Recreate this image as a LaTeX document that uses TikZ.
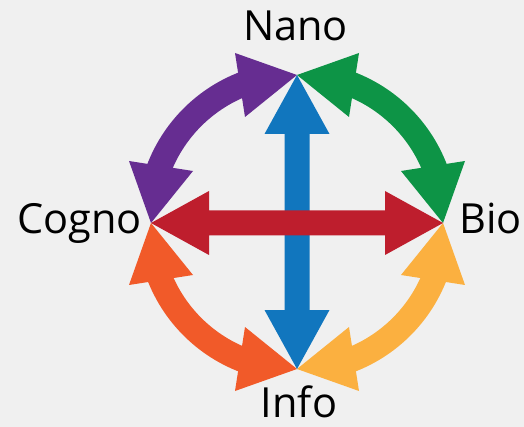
\documentclass[tikz,border=0pt]{standalone}
\usepackage{fontspec}
\setmainfont{Open Sans}
\usetikzlibrary{calc}
\definecolor{bgc}{RGB}{240,240,240}
\definecolor{cpurple}{RGB}{102,45,145}
\definecolor{cgreen}{RGB}{13,148,70}
\definecolor{cblue}{RGB}{17,118,190}
\definecolor{cred}{RGB}{190,30,45}
\definecolor{corange}{RGB}{241,90,41}
\definecolor{cyellow}{RGB}{251,176,64}
\tikzset{
  lbl/.style={font=\fontsize{41.5}{44}\selectfont, text=black, inner sep=0pt},
  shaft/.style={line width=25pt},
}
\begin{document}
\begin{tikzpicture}[x=1pt,y=-1pt]
\useasboundingbox (0,0) rectangle (524,427);
\fill[bgc] (0,0) rectangle (524,427);
% key points
\coordinate (C) at (297,222);
\coordinate (tN) at (297,75);
\coordinate (tS) at (297,369);
\coordinate (tW) at (151,223);
\coordinate (tE) at (443,223);
% labels
\node[lbl, anchor=base] (nano) at (295.5,41) {Nano};
\node[lbl, anchor=base east] (cogno) at (142,234) {Cogno};
\node[lbl, anchor=base west] (bio) at (459,234) {Bio};
\node[lbl, anchor=base] (info) at (299,417) {Info};
% purple arc (Nano - Cogno)
\draw[shaft, cpurple] ($(C)+(199:148)$) arc (199:251:148);
\fill[cpurple] (tN) -- ++(-62,-22) -- ++(10,64) -- cycle;
\fill[cpurple] (tW) -- ++(-22,-62) -- ++(64,10) -- cycle;
% green arc (Nano - Bio)
\draw[shaft, cgreen] ($(C)+(289:148)$) arc (289:341:148);
\fill[cgreen] (tN) -- ++(62,-22) -- ++(-10,64) -- cycle;
\fill[cgreen] (tE) -- ++(22,-62) -- ++(-64,10) -- cycle;
% orange arc (Cogno - Info)
\draw[shaft, corange] ($(C)+(109:148)$) arc (109:161:148);
\fill[corange] (tS) -- ++(-62,22) -- ++(10,-64) -- cycle;
\fill[corange] (tW) -- ++(-22,62) -- ++(64,-10) -- cycle;
% yellow arc (Bio - Info)
\draw[shaft, cyellow] ($(C)+(19:148)$) arc (19:71:148);
\fill[cyellow] (tS) -- ++(62,22) -- ++(-10,-64) -- cycle;
\fill[cyellow] (tE) -- ++(22,62) -- ++(-64,-10) -- cycle;
% blue vertical double arrow
\fill[cblue] (tN) -- ++(32.5,59) -- ++(-20,0) -- ++(0,176) -- ++(20,0) -- (tS)
  -- ++(-32.5,-59) -- ++(20,0) -- ++(0,-176) -- ++(-20,0) -- cycle;
% red horizontal double arrow
\fill[cred] (tW) -- ++(58,-32) -- ++(0,19.5) -- ++(176,0) -- ++(0,-19.5) -- (tE)
  -- ++(-58,32) -- ++(0,-19.5) -- ++(-176,0) -- ++(0,19.5) -- cycle;
\end{tikzpicture}
\end{document}
